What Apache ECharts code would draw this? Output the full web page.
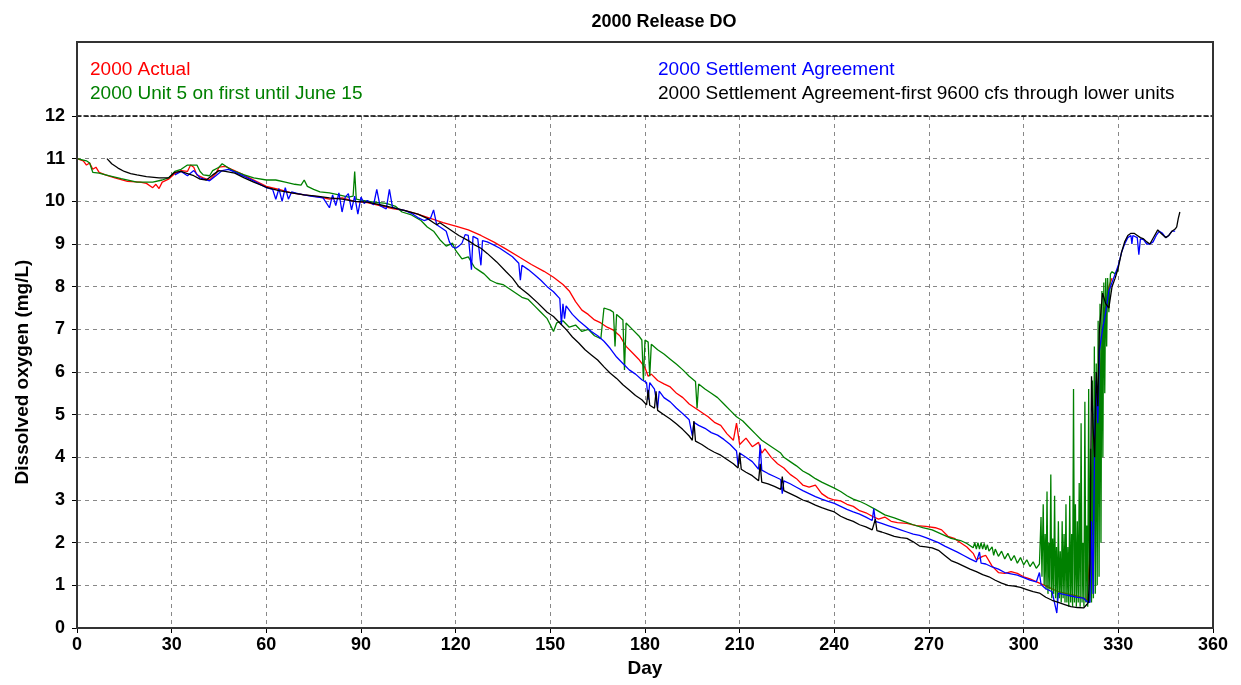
<!DOCTYPE html>
<html>
<head>
<meta charset="utf-8">
<title>2000 Release DO</title>
<script src="https://cdn.jsdelivr.net/npm/echarts@6/dist/echarts.min.js"></script>
<style>
  html, body { margin: 0; padding: 0; background: #fff; }
  #chart { width: 1241px; height: 685px; }
</style>
</head>
<body>
<div id="chart"></div>
<script>
// series names (legend text)
var seriesNames = [
    '2000 Actual',
    '2000 Unit 5 on first until June 15',
    '2000 Settlement Agreement',
    '2000 Settlement Agreement-first 9600 cfs through lower units'
];
var seriesColors = ['#ff0000', '#008000', '#0000ff', '#000000'];

// x axis ticks (day) and y axis ticks (mg/L)
var dayTicks = [0, 30, 60, 90, 120, 150, 180, 210, 240, 270, 300, 330, 360];
var doTicks = [0, 1, 2, 3, 4, 5, 6, 7, 8, 9, 10, 11, 12];

// [day, DO]
var actual = [
    [0,11.0],[2,10.95],[3,10.85],[4,10.9],[5,10.75],[6,10.8],[7,10.68],[9,10.62],[12,10.55],[16,10.47],
    [20,10.45],[22,10.42],[24,10.32],[25,10.4],[26,10.3],[27,10.45],[29,10.52],[31,10.65],[33,10.72],[35,10.7],
    [36,10.85],[37,10.8],[38,10.62],[40,10.55],[42,10.5],[44,10.65],[45,10.8],[47,10.82],[49,10.75],[52,10.65],
    [56,10.5],[60,10.35],[64,10.28],[68,10.2],[72,10.15],[77,10.1],[80,10.05],[84,10.08],[88,10.0],[92,9.97],
    [96,9.9],[100,9.83],[104,9.78],[108,9.7],[112,9.6],[116,9.5],[120,9.42],[124,9.33],[128,9.2],[132,9.05],
    [136,8.88],[140,8.7],[144,8.52],[148,8.36],[151,8.22],[154,8.05],[156,7.9],[158,7.65],[160,7.45],[162,7.35],
    [164,7.22],[166,7.15],[168,7.05],[170,6.98],[172,6.85],[174,6.6],[176,6.45],[178,6.3],[180,6.1],[181,5.9],
    [182,5.95],[184,5.8],[186,5.72],[188,5.65],[190,5.5],[192,5.4],[194,5.25],[196,5.15],[198,5.05],[200,4.95],
    [202,4.82],[204,4.75],[206,4.55],[208,4.4],[209,4.8],[210,4.3],[212,4.45],[214,4.25],[216,4.35],[217,4.1],
    [218,4.2],[220,4.0],[222,3.85],[224,3.75],[226,3.6],[228,3.5],[230,3.35],[232,3.3],[234,3.35],[236,3.15],
    [238,3.05],[240,3.0],[242,2.98],[244,2.9],[246,2.85],[248,2.75],[250,2.7],[252,2.62],[254,2.55],[256,2.6],
    [258,2.5],[260,2.47],[263,2.45],[266,2.4],[269,2.38],[272,2.35],[274,2.3],[276,2.15],[278,2.1],[280,2.0],
    [282,1.9],[284,1.75],[285,1.6],[287,1.68],[288,1.7],[290,1.45],[292,1.3],[294,1.28],[296,1.32],[298,1.28],
    [300,1.2],[302,1.15],[305,1.05],[308,0.95],[311,0.85],[314,0.8],[317,0.75],[319,0.7],[320,0.65],[321,1.8],
    [321.5,3.5],[322,4.0],[323,4.6],[323.5,5.3],[324,5.35],[324.5,6.2],[325,6.6],[325.5,7.4],[326,7.6],[327,8.0],
    [328,8.2]
];

var unit5 = [
    [0,11.0],[3,10.95],[4,10.9],[5,10.68],[7,10.66],[10,10.6],[14,10.53],[19,10.45],[24,10.45],[27,10.5],
    [29,10.55],[31,10.7],[33,10.75],[35,10.85],[38,10.85],[39,10.7],[40,10.62],[42,10.6],[43,10.72],[45,10.8],
    [46,10.88],[48,10.78],[50,10.7],[53,10.62],[56,10.55],[60,10.5],[63,10.5],[66,10.45],[69,10.4],[71,10.38],
    [72,10.5],[73,10.35],[75,10.28],[77,10.22],[80,10.2],[83,10.15],[86,10.1],[87.5,10.12],[88,10.7],[88.5,10.05],
    [90,10.03],[94,9.98],[98,9.95],[101,9.88],[103,9.75],[106,9.68],[109,9.55],[111,9.4],[113,9.3],[115,9.1],
    [117,8.95],[119,9.02],[120,8.85],[122,8.65],[124,8.7],[126,8.45],[127,8.4],[129,8.3],[131,8.15],[133,8.08],
    [135,8.05],[137,7.95],[139,7.85],[141,7.75],[143,7.7],[145,7.55],[147,7.4],[149,7.25],[150,7.1],[151,6.95],
    [152,7.15],[154,7.2],[156,7.05],[158,7.1],[160,6.95],[162,7.0],[164,6.85],[166,6.78],[167,7.5],[169,7.45],
    [170,7.4],[170.5,6.6],[171,7.35],[173,7.22],[173.5,6.05],[174,7.15],[176,7.0],[178,6.85],[179,6.75],[179.5,5.8],
    [180,6.75],[181,6.7],[181.5,5.9],[182,6.65],[184,6.52],[186,6.42],[188,6.3],[190,6.18],[192,6.05],[194,5.9],
    [196,5.78],[196.5,5.15],[197,5.72],[199,5.6],[201,5.5],[203,5.4],[205,5.25],[207,5.1],[209,4.95],[211,4.85],
    [213,4.7],[215,4.55],[217,4.4],[219,4.3],[221,4.2],[223,4.1],[224,4.0],[226,3.9],[228,3.8],[230,3.68],
    [232,3.6],[234,3.5],[236,3.42],[238,3.35],[240,3.28],[242,3.2],[244,3.1],[246,3.02],[248,2.97],[250,2.9],
    [253,2.78],[256,2.65],[259,2.58],[262,2.5],[265,2.42],[268,2.35],[271,2.3],[274,2.2],[277,2.1],[280,2.05],
    [282,1.98],[284,1.88],[284.5,2.0],[285,1.85],[285.5,2.0],[286,1.85],[286.5,2.0],[287,1.85],[287.5,1.98],[288,1.83],
    [288.5,1.95],[289,1.8],[290,1.9],[290.5,1.7],[291,1.85],[292,1.68],[293,1.8],[294,1.62],[295,1.75],[296,1.58],
    [297,1.7],[298,1.52],[299,1.65],[300,1.48],[301,1.6],[302,1.44],[303,1.55],[304,1.4],[305,1.5],
    [305.5,2.6],[305.8,1.2],[306.2,2.9],[306.5,1.0],[306.8,2.2],[307.1,0.9],[307.4,3.2],[307.7,0.8],[308,2.0],[308.3,0.9],
    [308.6,3.6],[308.9,0.7],[309.2,2.1],[309.5,0.8],[309.8,3.1],[310.1,0.7],[310.4,1.9],[310.7,0.6],[311,2.5],[311.3,0.7],
    [311.6,1.8],[311.9,0.6],[312.2,2.5],[312.5,0.7],[312.8,2.2],[313.1,0.6],[313.4,2.9],[313.7,0.6],[314,1.9],[314.3,0.5],
    [314.6,3.1],[314.9,0.6],[315.2,2.2],[315.5,0.5],[315.8,5.6],[316.1,0.6],[316.4,2.9],[316.7,0.5],[317,2.5],[317.3,0.6],
    [317.6,3.4],[317.9,0.5],[318.2,4.8],[318.5,0.6],[318.8,2.0],[319.1,0.5],[319.4,5.3],[319.7,0.6],[320,2.4],[320.3,0.5],
    [320.6,5.6],[320.9,0.6],[321.2,4.2],[321.5,0.6],[321.8,5.8],[322.1,0.7],[322.4,6.6],[322.7,0.8],[323,6.2],[323.3,1.0],
    [323.6,7.2],[323.9,1.2],[324.2,7.6],[324.5,2.0],[324.8,7.9],[325.1,4.0],[325.4,8.1],[325.7,5.5],[326,8.2],[326.3,6.6],
    [326.6,8.2],[327,7.4],[327.5,8.3],[328,8.35],[329,8.3],[330,8.4]
];

var settlement = [
    [31,10.62],[33,10.7],
    [35,10.6],[37,10.72],[39,10.55],[42,10.48],[44,10.6],[46,10.72],[48,10.75],[52,10.62],[56,10.48],[60,10.32],
    [62,10.28],[63,10.05],[64,10.3],[65,10.0],[66,10.32],[67,10.05],[68,10.22],[70,10.18],[74,10.12],[78,10.08],
    [80,9.85],[81,10.15],[82,9.9],[83,10.2],[84,9.75],[85,10.1],[86,10.18],[87,9.8],[88,10.12],[89,9.7],
    [90,10.1],[91,9.95],[92,10.02],[94,9.92],[95,10.28],[96,9.9],[98,9.82],[99,10.28],[100,9.85],[102,9.82],
    [104,9.78],[106,9.72],[108,9.62],[110,9.55],[112,9.6],[113,9.8],[114,9.45],[116,9.35],[117,9.3],[118,9.05],
    [119,8.93],[120,8.9],[121,8.95],[122,9.02],[123,9.22],[124,9.2],[125,8.4],[125.5,9.18],[127,9.12],[128,8.5],
    [128.5,9.08],[130,9.05],[132,8.98],[134,8.9],[136,8.8],[138,8.7],[140,8.55],[140.5,8.15],[141,8.5],[143,8.4],
    [145,8.28],[147,8.15],[149,8.0],[151,7.88],[153,7.72],[153.5,7.1],[154,7.6],[154.5,7.25],[155,7.55],[157,7.35],
    [159,7.2],[161,7.08],[163,6.95],[165,6.85],[167,6.72],[169,6.55],[171,6.35],[173,6.2],[175,6.05],[177,5.95],
    [179,5.82],[180.5,5.75],[181,5.35],[181.5,5.75],[183,5.6],[184,5.15],[184.5,5.55],[186,5.4],[188,5.3],[190,5.15],
    [192,5.02],[194,4.88],[195,4.5],[195.5,4.82],[197,4.75],[199,4.68],[201,4.58],[203,4.52],[205,4.42],[207,4.3],
    [209,4.15],[209.5,3.8],[210,4.1],[212,4.0],[214,3.9],[216,3.72],[216.5,4.3],[217,3.7],[219,3.62],[221,3.55],
    [223,3.48],[223.5,3.15],[224,3.45],[226,3.38],[228,3.3],[230,3.22],[232,3.15],[234,3.08],[236,3.02],[238,2.97],
    [240,2.92],[242,2.85],[244,2.78],[246,2.72],[248,2.67],[250,2.6],[252,2.52],[252.5,2.8],[253,2.5],[255,2.45],
    [257,2.4],[259,2.35],[261,2.3],[263,2.25],[265,2.2],[267,2.17],[269,2.12],[271,2.06],[273,2.0],[275,1.92],
    [277,1.85],[279,1.78],[281,1.7],[283,1.62],[285,1.55],[286,1.78],[286.5,1.52],[288,1.5],[290,1.43],[292,1.38],
    [294,1.3],[296,1.27],[298,1.24],[300,1.18],[302,1.12],[304,1.08],[305,1.3],[305.5,1.02],[307,0.92],[309,0.85],
    [310.5,0.35],[311,0.82],[313,0.78],[315,0.75],[317,0.72],[319,0.7],[320,0.62],[321,0.6],[321.5,2.5],[322,0.8],
    [322.5,4.5],[323,5.8],[323.5,4.8],[324,6.5],[325,7.0],[326,7.4],[327,7.9],[328,8.1],[329,8.3],[330,8.5],
    [331,8.8],[332,9.0],[333,9.15],[334,9.2],[334.3,9.0],[334.6,9.2],[335,9.2],[336,9.15],[336.5,8.75],[337,9.12],
    [338,9.1],[339,9.0],[340,9.0],[341,9.05],[342,9.2],[343,9.3],[344,9.25],[345,9.15],[346,9.2],[347,9.3],
    [348,9.3]
];

var settlement9600 = [
    [9.5,11.0],[11,10.88],[13,10.78],[15,10.7],[17,10.65],[19,10.62],[22,10.58],[26,10.55],[29,10.55],[31,10.68],
    [33,10.7],[35,10.65],[37,10.6],[39,10.52],[41,10.5],[43,10.62],[45,10.72],[47,10.7],[50,10.66],[53,10.55],
    [56,10.45],[60,10.33],[64,10.25],[68,10.2],[72,10.15],[76,10.12],[80,10.08],[84,10.05],[88,10.0],[92,9.98],
    [96,9.92],[100,9.85],[104,9.78],[108,9.7],[111,9.6],[113,9.5],[114,9.45],[115,9.5],[117,9.4],[119,9.3],
    [121,9.2],[124,9.08],[126,8.98],[128,8.9],[130,8.78],[133,8.58],[136,8.35],[138,8.2],[140,8.0],[143,7.82],
    [146,7.62],[149,7.4],[151,7.3],[153,7.15],[155,7.0],[157,6.82],[159,6.68],[161,6.52],[163,6.4],[165,6.28],
    [167,6.12],[169,5.97],[171,5.85],[173,5.7],[175,5.58],[177,5.45],[179,5.35],[180.5,5.23],[181,5.58],[181.5,5.22],
    [183,5.15],[183.5,5.55],[184,5.1],[186,5.0],[188,4.9],[190,4.78],[192,4.65],[194,4.5],[195,4.4],[195.5,4.85],
    [196,4.38],[198,4.3],[200,4.2],[202,4.12],[204,4.05],[206,3.95],[208,3.85],[209.5,3.75],[210,4.1],[210.5,3.72],
    [212,3.65],[214,3.57],[216,3.45],[216.5,3.85],[217,3.42],[219,3.38],[221,3.32],[223,3.25],[223.5,3.55],[224,3.22],
    [226,3.15],[228,3.08],[230,3.0],[232,2.95],[234,2.88],[236,2.82],[238,2.77],[240,2.72],[242,2.62],[244,2.55],
    [246,2.5],[248,2.42],[250,2.37],[252,2.3],[253,2.55],[253.5,2.28],[255,2.25],[257,2.2],[259,2.15],[261,2.12],
    [263,2.1],[265,2.02],[267,1.92],[269,1.9],[271,1.88],[273,1.82],[275,1.7],[277,1.58],[279,1.52],[281,1.45],
    [283,1.38],[285,1.32],[287,1.25],[289,1.2],[291,1.12],[293,1.05],[295,1.0],[297,0.98],[299,0.95],[301,0.9],
    [303,0.85],[305,0.82],[307,0.72],[309,0.65],[311,0.6],[313,0.55],[315,0.5],[317,0.48],[319,0.47],[320,0.55],
    [320.5,0.6],[321,1.5],[321.5,5.9],[322,4.7],[322.5,4.0],[323,6.0],[323.5,5.2],[324,7.0],[325,7.85],[326,7.6],
    [327,7.5],[328,8.0],[329,8.2],[330,8.45],[331,8.8],[332,9.05],[333,9.2],[334,9.25],[335,9.25],[336,9.2],
    [337,9.15],[338,9.12],[339,9.05],[340,9.0],[340.6,9.0],[341.5,9.2],[342.5,9.33],[343.5,9.25],[345,9.15],[346,9.2],
    [347,9.3],[348,9.35],[348.5,9.4],[349,9.6],[349.5,9.75]
];

var dom = document.getElementById('chart');
var myChart = echarts.init(dom);

var FONT = '"Liberation Sans", Arial, sans-serif';

function lineSeries(i, data, z) {
    return {
        name: seriesNames[i],
        type: 'line',
        data: data,
        showSymbol: false,
        symbol: 'none',
        z: z,
        lineStyle: { color: seriesColors[i], width: 1.3 },
        itemStyle: { color: seriesColors[i] }
    };
}

var option = {
    animation: false,
    backgroundColor: '#fff',
    textStyle: { fontFamily: FONT },
    title: {
        text: '2000 Release DO',
        left: 659,
        textAlign: 'center',
        top: 8,
        textStyle: { fontSize: 18, fontWeight: 'bold', color: '#000', fontFamily: FONT }
    },
    legend: [
        {
            data: [
                { name: seriesNames[0], icon: 'none', textStyle: { color: seriesColors[0] } },
                { name: seriesNames[1], icon: 'none', textStyle: { color: seriesColors[1] } }
            ],
            orient: 'vertical',
            left: 80,
            top: 55,
            itemWidth: 0,
            itemHeight: 10,
            itemGap: 5,
            selectedMode: false,
            textStyle: { fontSize: 19, fontFamily: FONT }
        },
        {
            data: [
                { name: seriesNames[2], icon: 'none', textStyle: { color: seriesColors[2] } },
                { name: seriesNames[3], icon: 'none', textStyle: { color: seriesColors[3] } }
            ],
            orient: 'vertical',
            left: 648,
            top: 55,
            itemWidth: 0,
            itemHeight: 10,
            itemGap: 5,
            selectedMode: false,
            textStyle: { fontSize: 19, fontFamily: FONT }
        }
    ],
    grid: { left: 77, right: 28, top: 116, bottom: 57 },
    xAxis: [
        {
            type: 'value',
            min: dayTicks[0],
            max: dayTicks[dayTicks.length - 1],
            interval: 30,
            name: 'Day',
            nameLocation: 'middle',
            nameGap: 30,
            nameTextStyle: { fontSize: 19, fontWeight: 'bold', color: '#000' },
            axisLine: { show: true, onZero: false, lineStyle: { color: '#000', width: 1.5, type: [4, 3] } },
            axisTick: { show: true, length: 5, lineStyle: { color: '#000' } },
            axisLabel: { fontSize: 18, fontWeight: 'bold', color: '#000', margin: 8 },
            splitLine: { show: true, lineStyle: { color: '#888', type: [4, 4], width: 1 } }
        },
        {
            type: 'value',
            position: 'top',
            min: dayTicks[0],
            max: dayTicks[dayTicks.length - 1],
            interval: 30,
            axisLine: { show: true, onZero: false, lineStyle: { color: '#000', width: 1.5, type: [4, 3] } },
            axisTick: { show: false },
            axisLabel: { show: false },
            splitLine: { show: false }
        }
    ],
    yAxis: {
        type: 'value',
        min: doTicks[0],
        max: doTicks[doTicks.length - 1],
        interval: 1,
        name: 'Dissolved oxygen (mg/L)',
        nameLocation: 'middle',
        nameGap: 45,
        nameTextStyle: { fontSize: 19, fontWeight: 'bold', color: '#000' },
        axisLine: { show: true, onZero: false, lineStyle: { color: '#555', width: 2 } },
        axisTick: { show: true, length: 5, lineStyle: { color: '#000' } },
        axisLabel: { fontSize: 18, fontWeight: 'bold', color: '#000', margin: 12 },
        splitLine: { show: true, lineStyle: { color: '#888', type: [4, 4], width: 1 } }
    },
    graphic: [
        {
            type: 'rect',
            shape: { x: 77, y: 42, width: 1136, height: 586 },
            style: { fill: 'none', stroke: '#333', lineWidth: 2 },
            silent: true,
            z: 100
        }
    ],
    series: [
        lineSeries(0, actual, 2),
        lineSeries(1, unit5, 3),
        lineSeries(2, settlement, 4),
        lineSeries(3, settlement9600, 5)
    ]
};

myChart.setOption(option);
</script>
</body>
</html>
